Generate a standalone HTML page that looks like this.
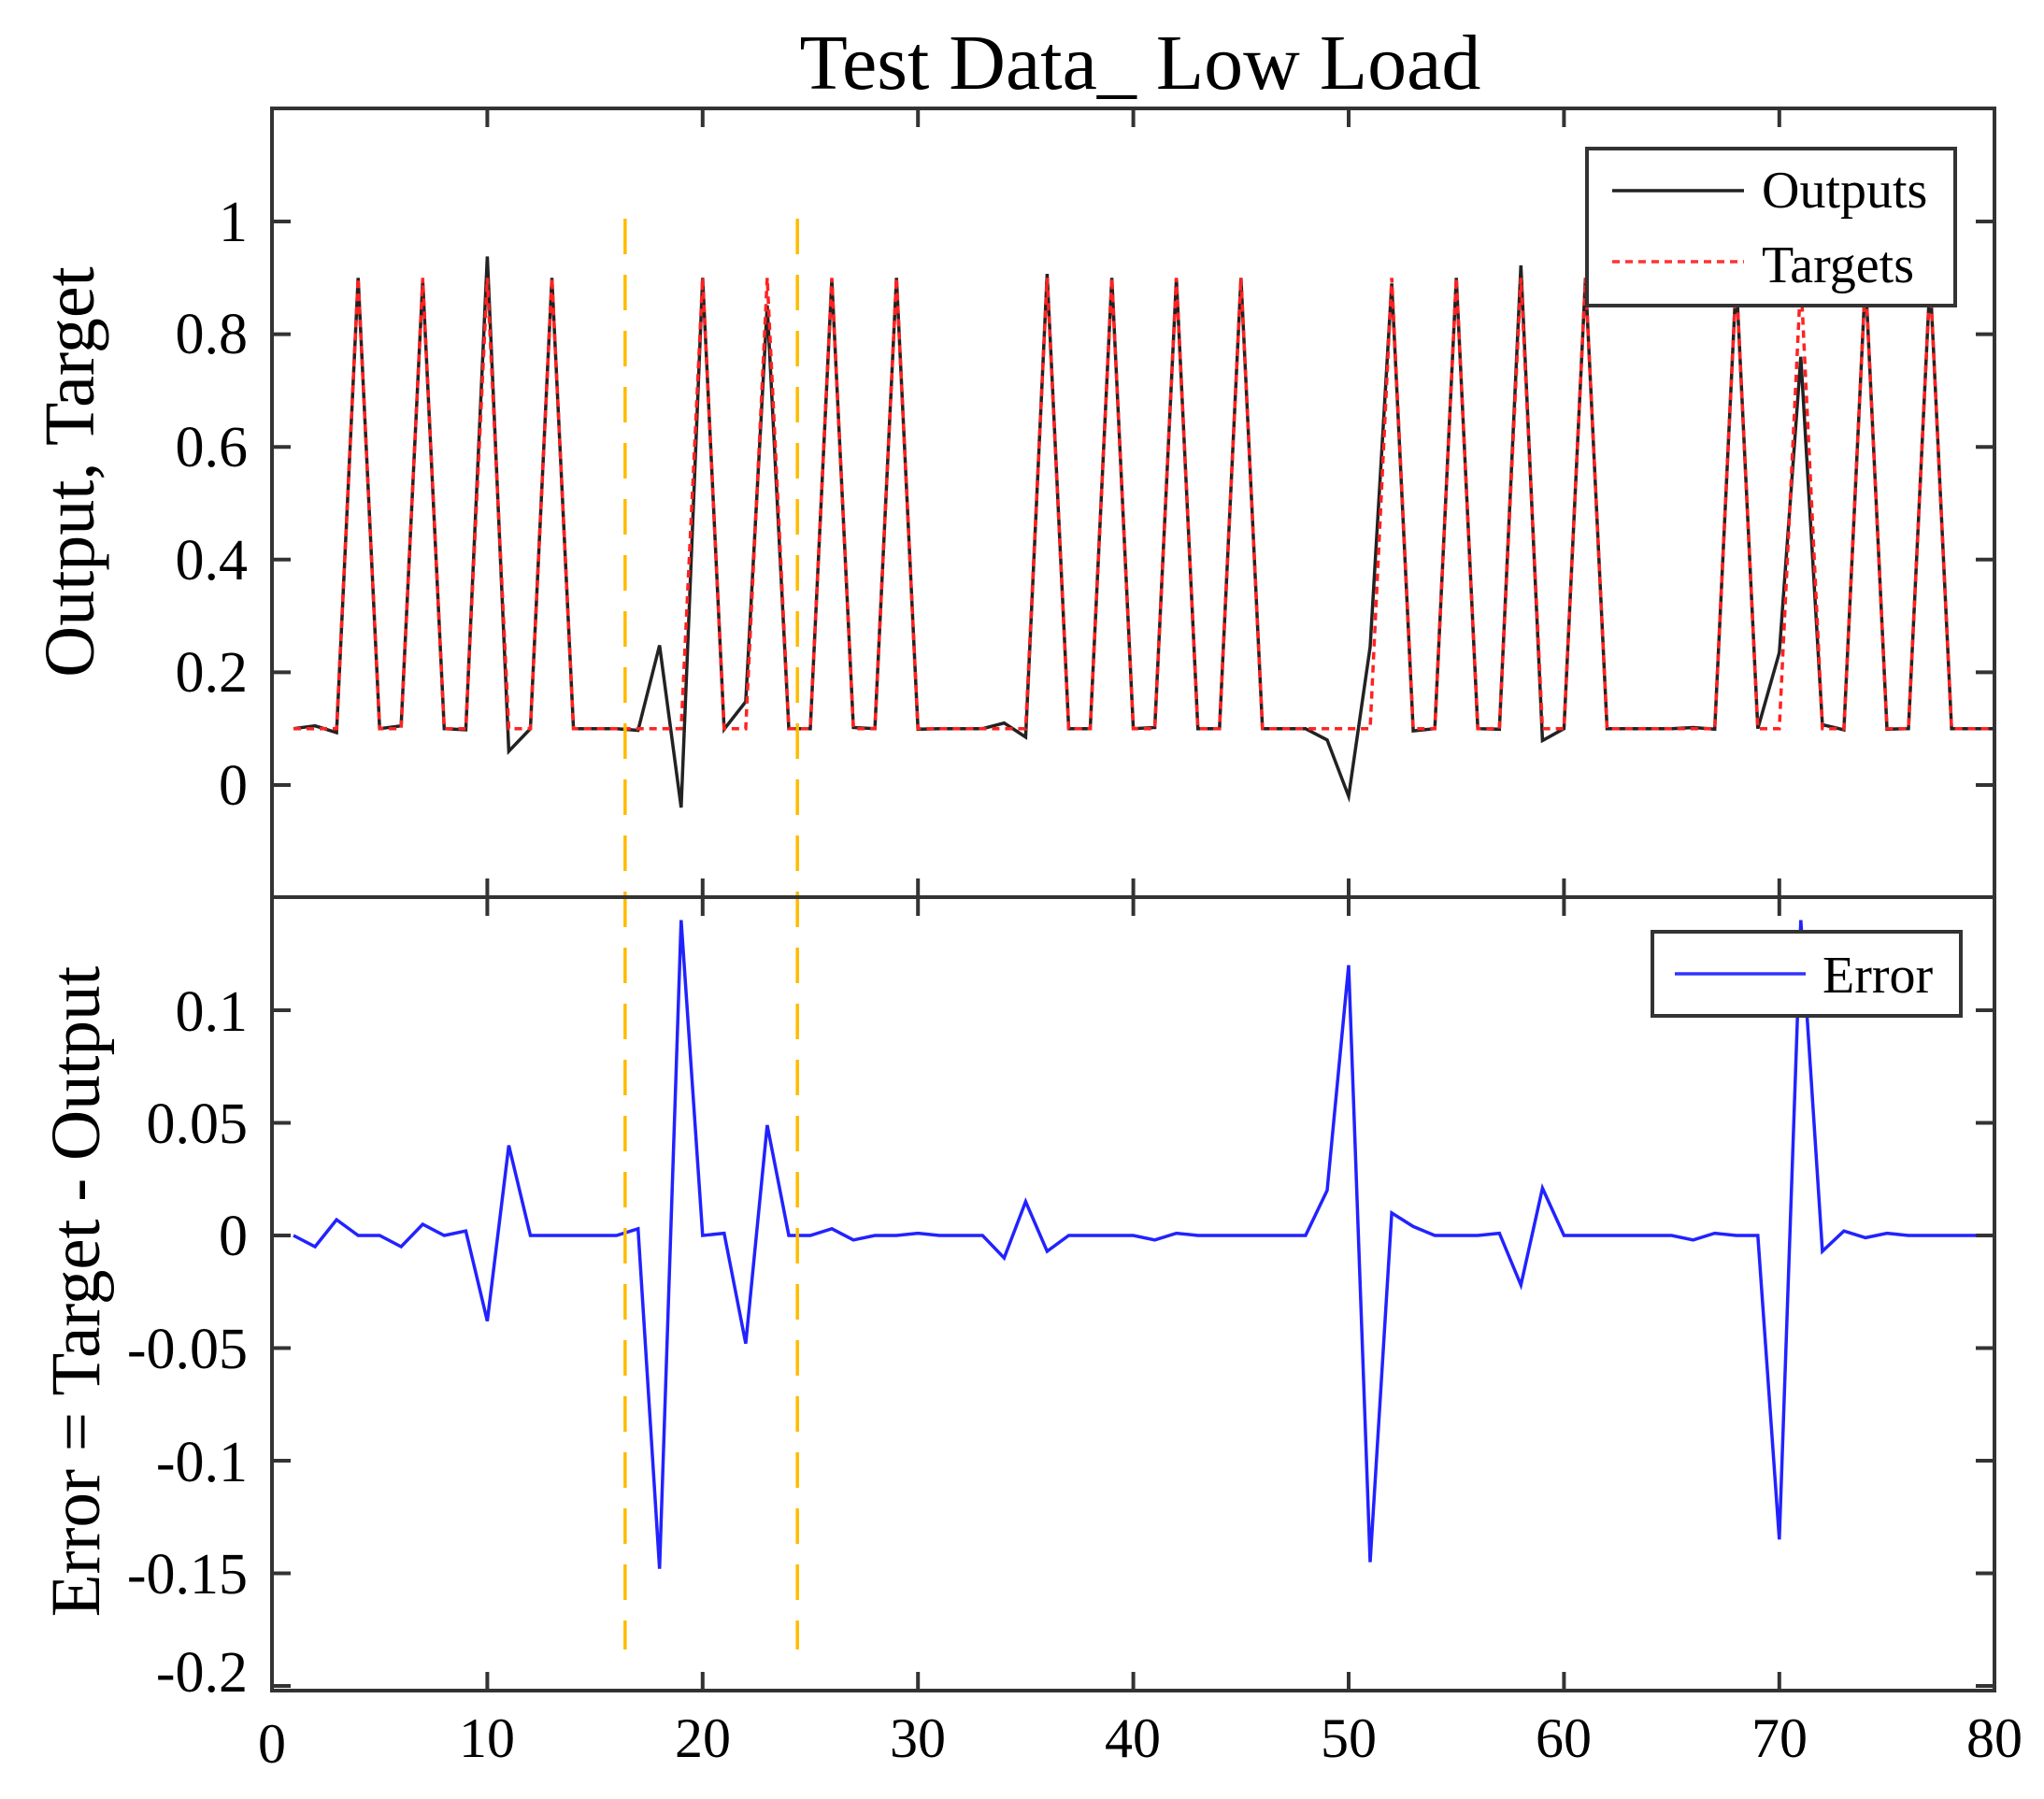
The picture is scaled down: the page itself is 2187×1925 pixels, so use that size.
<!DOCTYPE html>
<html><head><meta charset="utf-8"><style>
html,body{margin:0;padding:0;background:#fff;}
svg{display:block;font-family:"Liberation Serif",serif;}
</style></head><body>
<svg id="s" width="2187" height="1925" viewBox="0 0 2187 1925" xmlns="http://www.w3.org/2000/svg">
<rect width="2187" height="1925" fill="#fff"/>
<text x="1220" y="95" font-size="84" text-anchor="middle">Test Data_ Low Load</text>
<g id="plots"></g>
<rect x="291" y="116" width="1843" height="844" fill="none" stroke="#333" stroke-width="4"/>
<rect x="291" y="960" width="1843" height="849" fill="none" stroke="#333" stroke-width="4"/>
<g id="ticks" stroke="#333" stroke-width="4"></g>
<g font-size="62" text-anchor="end">
<text x="265" y="258">1</text>
<text x="265" y="378">0.8</text>
<text x="265" y="499">0.6</text>
<text x="265" y="620">0.4</text>
<text x="265" y="740">0.2</text>
<text x="265" y="861">0</text>
<text x="265" y="1103">0.1</text>
<text x="265" y="1223">0.05</text>
<text x="265" y="1343">0</text>
<text x="265" y="1464">-0.05</text>
<text x="265" y="1585">-0.1</text>
<text x="265" y="1705">-0.15</text>
<text x="265" y="1810">-0.2</text>
</g>
<g font-size="60" text-anchor="middle">
<text x="291" y="1886">0</text>
<text x="521" y="1880">10</text>
<text x="752" y="1880">20</text>
<text x="982" y="1880">30</text>
<text x="1212" y="1880">40</text>
<text x="1443" y="1880">50</text>
<text x="1673" y="1880">60</text>
<text x="1904" y="1880">70</text>
<text x="2134" y="1880">80</text>
</g>
<text transform="translate(100,505) rotate(-90)" font-size="76" text-anchor="middle">Output, Target</text>
<text transform="translate(106,1382) rotate(-90)" font-size="75" text-anchor="middle">Error = Target - Output</text>
<rect x="1698" y="159" width="394" height="168" fill="#fff" stroke="#333" stroke-width="4"/>
<line x1="1725" y1="204" x2="1866" y2="204" stroke="#222" stroke-width="3.5"/>
<line x1="1725" y1="280" x2="1866" y2="280" stroke="#f33" stroke-width="3.5" stroke-dasharray="8,6"/>
<text x="1885" y="222" font-size="56">Outputs</text>
<text x="1885" y="302" font-size="56">Targets</text>
<rect x="1768" y="997" width="330" height="90" fill="#fff" stroke="#333" stroke-width="4"/>
<line x1="1792" y1="1042" x2="1932" y2="1042" stroke="#33f" stroke-width="3.5"/>
<text x="1950" y="1062" font-size="56">Error</text>
</svg>
<script>
var X=function(i){return 291+23.04*i;};
var YU=function(v){return 840-603*v;};
var YL=function(v){return 1322-2410*v;};
var peaks=[4,7,10,13,20,23,26,29,36,39,42,45,52,55,58,61,68,71,74,77];
var err={1:0,2:-0.005,3:0.007,6:-0.005,7:0.005,9:0.002,10:-0.038,11:0.04,17:0.003,18:-0.148,19:0.14,21:0.001,22:-0.048,23:0.049,26:0.003,27:-0.002,30:0.001,34:-0.01,35:0.015,36:-0.007,41:-0.002,42:0.001,49:0.02,50:0.12,51:-0.145,52:0.01,53:0.004,57:0.001,58:-0.022,59:0.021,66:-0.002,67:0.001,70:-0.135,71:0.14,72:-0.007,73:0.002,74:-0.001,75:0.001};
var t=[],o=[],e=[];
for(var i=1;i<=80;i++){var tv=peaks.indexOf(i)>=0?0.9:0.1;var ev=err[i]||0;
t.push(X(i).toFixed(1)+','+YU(tv).toFixed(1));
o.push(X(i).toFixed(1)+','+YU(tv-ev).toFixed(1));
e.push(X(i).toFixed(1)+','+YL(ev).toFixed(1));}
var ns="http://www.w3.org/2000/svg";
function add(parent,tag,attrs){var el=document.createElementNS(ns,tag);for(var k in attrs)el.setAttribute(k,attrs[k]);parent.appendChild(el);}
var g=document.getElementById('plots');
add(g,'polyline',{points:o.join(' '),fill:'none',stroke:'#222','stroke-width':3.5});
add(g,'polyline',{points:t.join(' '),fill:'none',stroke:'#f22','stroke-width':3.5,'stroke-dasharray':'8,6'});
add(g,'polyline',{points:e.join(' '),fill:'none',stroke:'#22f','stroke-width':3.5});
[16.4,24.4].forEach(function(v){add(g,'line',{x1:X(v),y1:234,x2:X(v),y2:1765,stroke:'#fb0','stroke-width':3.5,'stroke-dasharray':'38,22'});});
var tk=document.getElementById('ticks');
for(var k=1;k<8;k++){var x=X(k*10);
add(tk,'line',{x1:x,y1:116,x2:x,y2:136});add(tk,'line',{x1:x,y1:940,x2:x,y2:980});add(tk,'line',{x1:x,y1:1789,x2:x,y2:1809});}
[0,0.2,0.4,0.6,0.8,1].forEach(function(v){var y=YU(v);add(tk,'line',{x1:291,y1:y,x2:311,y2:y});add(tk,'line',{x1:2114,y1:y,x2:2134,y2:y});});
[-0.2,-0.15,-0.1,-0.05,0,0.05,0.1].forEach(function(v){var y=YL(v);add(tk,'line',{x1:291,y1:y,x2:311,y2:y});add(tk,'line',{x1:2114,y1:y,x2:2134,y2:y});});
</script>
</body></html>
